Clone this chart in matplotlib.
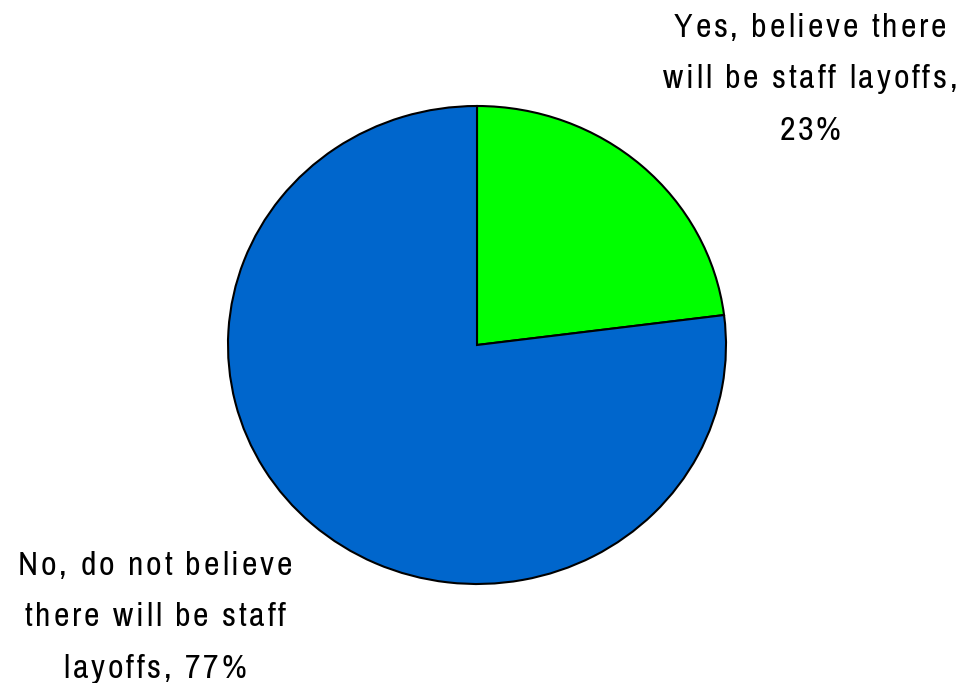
import matplotlib
matplotlib.use('Agg')
import matplotlib.pyplot as plt
from matplotlib.font_manager import FontProperties, findfont, get_font

# 응답 데이터
labels = ['Yes, believe there\nwill be staff layoffs,\n23%',
          'No, do not believe\nthere will be staff\nlayoffs, 77%']
values = [23, 77]
colors = ['#00FF00', '#0066CC']

W, H, DPI = 967, 683, 100
FS = 24.5        # 글자 크기 (pt)
TRACK = 2.8      # 글자 사이 추가 간격 (px)
LINE = 51.5      # 줄 간격 (px)

prop = FontProperties(family=['Archivo Narrow', 'Roboto Condensed',
                              'Liberation Sans Narrow', 'DejaVu Sans'], size=FS)
font = get_font(findfont(prop))
font.set_size(FS, DPI)


def advance(ch):
    return font.load_char(ord(ch)).linearHoriAdvance / 65536


def tracked_text(fig, cx, baseline, text):
    # 줄마다 가운데 정렬, 글자 간격을 넓혀서 한 글자씩 배치
    for i, line in enumerate(text.split('\n')):
        advs = [advance(c) for c in line]
        width = sum(advs) + TRACK * (len(line) - 1)
        x = cx - width / 2
        y = baseline + i * LINE
        for c, a in zip(line, advs):
            if c != ' ':
                fig.text(x / W, 1 - y / H, c, fontproperties=prop,
                         ha='left', va='baseline', color='black')
            x += a + TRACK


fig = plt.figure(figsize=(W / DPI, H / DPI), dpi=DPI)
ax = fig.add_axes([0, 0, 1, 1])

ax.pie(values, colors=colors, startangle=90, counterclock=False,
       radius=1, center=(0, 0),
       wedgeprops={'edgecolor': 'black', 'linewidth': 1.5})

# 픽셀 기준 범위 (중심 477,345 / 가로 반지름 249px, 세로 239px)
ax.set_aspect('auto')
ax.set_xlim(-477 / 249, (W - 477) / 249)
ax.set_ylim(-(H - 345) / 239, 345 / 239)
ax.axis('off')

tracked_text(fig, 810, 37, labels[0])
tracked_text(fig, 155, 575, labels[1])

fig.savefig('out.png', dpi=DPI)
